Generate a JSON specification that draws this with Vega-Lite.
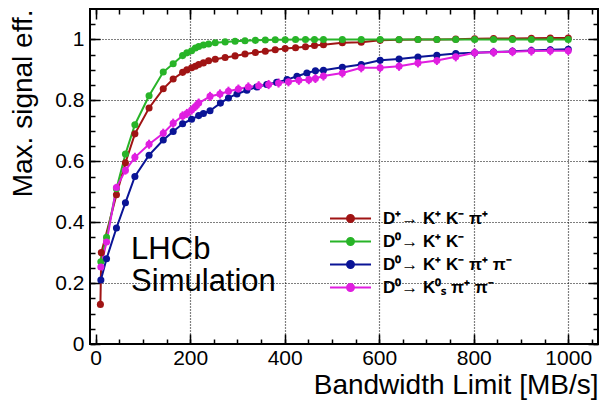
{
  "$schema": "https://vega.github.io/schema/vega-lite/v6.json",
  "width": 508,
  "height": 335,
  "autosize": {"type": "none"},
  "padding": {"left": 90, "top": 9, "right": 1, "bottom": 60},
  "background": "white",
  "config": {
    "view": {"stroke": "black", "strokeWidth": 2},
    "font": "Liberation Sans",
    "axis": {"domain": false, "labelColor": "black", "tickColor": "black", "titleColor": "black", "titleFontWeight": "normal"}
  },
  "resolve": {"axis": {"x": "independent", "y": "independent"}},
  "datasets": {
    "eff": [
      {"series": "Dp", "bw": 10, "eff": 0.13}, {"series": "Dp", "bw": 12, "eff": 0.30}, {"series": "Dp", "bw": 44, "eff": 0.49}, {"series": "Dp", "bw": 63, "eff": 0.595}, {"series": "Dp", "bw": 83, "eff": 0.69}, {"series": "Dp", "bw": 113, "eff": 0.775}, {"series": "Dp", "bw": 143, "eff": 0.838}, {"series": "Dp", "bw": 164, "eff": 0.87}, {"series": "Dp", "bw": 184, "eff": 0.892}, {"series": "Dp", "bw": 193, "eff": 0.9}, {"series": "Dp", "bw": 203, "eff": 0.907}, {"series": "Dp", "bw": 211, "eff": 0.912}, {"series": "Dp", "bw": 218, "eff": 0.918}, {"series": "Dp", "bw": 228, "eff": 0.923}, {"series": "Dp", "bw": 239, "eff": 0.93}, {"series": "Dp", "bw": 253, "eff": 0.935}, {"series": "Dp", "bw": 274, "eff": 0.941}, {"series": "Dp", "bw": 295, "eff": 0.946}, {"series": "Dp", "bw": 316, "eff": 0.952}, {"series": "Dp", "bw": 338, "eff": 0.957}, {"series": "Dp", "bw": 359, "eff": 0.961}, {"series": "Dp", "bw": 380, "eff": 0.966}, {"series": "Dp", "bw": 401, "eff": 0.97}, {"series": "Dp", "bw": 423, "eff": 0.973}, {"series": "Dp", "bw": 444, "eff": 0.976}, {"series": "Dp", "bw": 463, "eff": 0.98}, {"series": "Dp", "bw": 482, "eff": 0.983}, {"series": "Dp", "bw": 522, "eff": 0.989}, {"series": "Dp", "bw": 562, "eff": 0.991}, {"series": "Dp", "bw": 602, "eff": 0.997}, {"series": "Dp", "bw": 642, "eff": 0.999}, {"series": "Dp", "bw": 682, "eff": 1.0}, {"series": "Dp", "bw": 722, "eff": 1.0}, {"series": "Dp", "bw": 762, "eff": 1.001}, {"series": "Dp", "bw": 802, "eff": 1.002}, {"series": "Dp", "bw": 842, "eff": 1.003}, {"series": "Dp", "bw": 882, "eff": 1.003}, {"series": "Dp", "bw": 922, "eff": 1.004}, {"series": "Dp", "bw": 962, "eff": 1.005}, {"series": "Dp", "bw": 1000, "eff": 1.005},

      {"series": "KK", "bw": 11, "eff": 0.27}, {"series": "KK", "bw": 23, "eff": 0.35}, {"series": "KK", "bw": 44, "eff": 0.51}, {"series": "KK", "bw": 63, "eff": 0.624}, {"series": "KK", "bw": 83, "eff": 0.72}, {"series": "KK", "bw": 113, "eff": 0.815}, {"series": "KK", "bw": 143, "eff": 0.893}, {"series": "KK", "bw": 164, "eff": 0.92}, {"series": "KK", "bw": 184, "eff": 0.947}, {"series": "KK", "bw": 193, "eff": 0.956}, {"series": "KK", "bw": 203, "eff": 0.963}, {"series": "KK", "bw": 211, "eff": 0.972}, {"series": "KK", "bw": 218, "eff": 0.977}, {"series": "KK", "bw": 228, "eff": 0.982}, {"series": "KK", "bw": 239, "eff": 0.985}, {"series": "KK", "bw": 253, "eff": 0.989}, {"series": "KK", "bw": 274, "eff": 0.992}, {"series": "KK", "bw": 295, "eff": 0.994}, {"series": "KK", "bw": 316, "eff": 0.996}, {"series": "KK", "bw": 338, "eff": 0.997}, {"series": "KK", "bw": 359, "eff": 0.998}, {"series": "KK", "bw": 380, "eff": 0.999}, {"series": "KK", "bw": 401, "eff": 0.999}, {"series": "KK", "bw": 423, "eff": 1.0}, {"series": "KK", "bw": 444, "eff": 1.0}, {"series": "KK", "bw": 463, "eff": 1.0}, {"series": "KK", "bw": 482, "eff": 1.0}, {"series": "KK", "bw": 522, "eff": 1.0}, {"series": "KK", "bw": 562, "eff": 1.0}, {"series": "KK", "bw": 602, "eff": 1.0}, {"series": "KK", "bw": 642, "eff": 1.0}, {"series": "KK", "bw": 682, "eff": 1.0}, {"series": "KK", "bw": 722, "eff": 1.0}, {"series": "KK", "bw": 762, "eff": 1.0}, {"series": "KK", "bw": 802, "eff": 1.0}, {"series": "KK", "bw": 842, "eff": 1.0}, {"series": "KK", "bw": 882, "eff": 1.0}, {"series": "KK", "bw": 922, "eff": 1.0}, {"series": "KK", "bw": 962, "eff": 1.0}, {"series": "KK", "bw": 1000, "eff": 1.0},

      {"series": "KKpipi", "bw": 11, "eff": 0.21}, {"series": "KKpipi", "bw": 23, "eff": 0.28}, {"series": "KKpipi", "bw": 44, "eff": 0.381}, {"series": "KKpipi", "bw": 63, "eff": 0.464}, {"series": "KKpipi", "bw": 83, "eff": 0.55}, {"series": "KKpipi", "bw": 113, "eff": 0.62}, {"series": "KKpipi", "bw": 143, "eff": 0.67}, {"series": "KKpipi", "bw": 164, "eff": 0.698}, {"series": "KKpipi", "bw": 184, "eff": 0.723}, {"series": "KKpipi", "bw": 203, "eff": 0.738}, {"series": "KKpipi", "bw": 218, "eff": 0.75}, {"series": "KKpipi", "bw": 228, "eff": 0.757}, {"series": "KKpipi", "bw": 242, "eff": 0.766}, {"series": "KKpipi", "bw": 264, "eff": 0.791}, {"series": "KKpipi", "bw": 281, "eff": 0.808}, {"series": "KKpipi", "bw": 299, "eff": 0.821}, {"series": "KKpipi", "bw": 320, "eff": 0.833}, {"series": "KKpipi", "bw": 341, "eff": 0.844}, {"series": "KKpipi", "bw": 362, "eff": 0.852}, {"series": "KKpipi", "bw": 383, "eff": 0.859}, {"series": "KKpipi", "bw": 405, "eff": 0.868}, {"series": "KKpipi", "bw": 426, "eff": 0.879}, {"series": "KKpipi", "bw": 447, "eff": 0.89}, {"series": "KKpipi", "bw": 465, "eff": 0.897}, {"series": "KKpipi", "bw": 482, "eff": 0.899}, {"series": "KKpipi", "bw": 522, "eff": 0.909}, {"series": "KKpipi", "bw": 562, "eff": 0.918}, {"series": "KKpipi", "bw": 602, "eff": 0.932}, {"series": "KKpipi", "bw": 642, "eff": 0.936}, {"series": "KKpipi", "bw": 682, "eff": 0.942}, {"series": "KKpipi", "bw": 722, "eff": 0.948}, {"series": "KKpipi", "bw": 762, "eff": 0.954}, {"series": "KKpipi", "bw": 802, "eff": 0.956}, {"series": "KKpipi", "bw": 842, "eff": 0.959}, {"series": "KKpipi", "bw": 882, "eff": 0.961}, {"series": "KKpipi", "bw": 922, "eff": 0.964}, {"series": "KKpipi", "bw": 962, "eff": 0.966}, {"series": "KKpipi", "bw": 1000, "eff": 0.968},

      {"series": "KSpipi", "bw": 11, "eff": 0.253, "err": 0.008}, {"series": "KSpipi", "bw": 23, "eff": 0.335, "err": 0.01}, {"series": "KSpipi", "bw": 44, "eff": 0.514, "err": 0.012}, {"series": "KSpipi", "bw": 63, "eff": 0.57, "err": 0.014}, {"series": "KSpipi", "bw": 83, "eff": 0.613, "err": 0.015}, {"series": "KSpipi", "bw": 113, "eff": 0.656, "err": 0.015}, {"series": "KSpipi", "bw": 143, "eff": 0.692, "err": 0.015}, {"series": "KSpipi", "bw": 164, "eff": 0.725, "err": 0.015}, {"series": "KSpipi", "bw": 184, "eff": 0.749, "err": 0.015}, {"series": "KSpipi", "bw": 193, "eff": 0.757, "err": 0.015}, {"series": "KSpipi", "bw": 203, "eff": 0.768, "err": 0.015}, {"series": "KSpipi", "bw": 211, "eff": 0.78, "err": 0.015}, {"series": "KSpipi", "bw": 218, "eff": 0.791, "err": 0.015}, {"series": "KSpipi", "bw": 242, "eff": 0.813, "err": 0.015}, {"series": "KSpipi", "bw": 263, "eff": 0.821, "err": 0.015}, {"series": "KSpipi", "bw": 281, "eff": 0.83, "err": 0.015}, {"series": "KSpipi", "bw": 302, "eff": 0.837, "err": 0.015}, {"series": "KSpipi", "bw": 323, "eff": 0.844, "err": 0.015}, {"series": "KSpipi", "bw": 345, "eff": 0.848, "err": 0.015}, {"series": "KSpipi", "bw": 366, "eff": 0.852, "err": 0.015}, {"series": "KSpipi", "bw": 387, "eff": 0.857, "err": 0.015}, {"series": "KSpipi", "bw": 408, "eff": 0.861, "err": 0.015}, {"series": "KSpipi", "bw": 430, "eff": 0.866, "err": 0.015}, {"series": "KSpipi", "bw": 451, "eff": 0.868, "err": 0.015}, {"series": "KSpipi", "bw": 465, "eff": 0.872, "err": 0.015}, {"series": "KSpipi", "bw": 482, "eff": 0.88, "err": 0.015}, {"series": "KSpipi", "bw": 522, "eff": 0.89, "err": 0.015}, {"series": "KSpipi", "bw": 562, "eff": 0.907, "err": 0.015}, {"series": "KSpipi", "bw": 602, "eff": 0.907, "err": 0.015}, {"series": "KSpipi", "bw": 642, "eff": 0.912, "err": 0.015}, {"series": "KSpipi", "bw": 682, "eff": 0.923, "err": 0.015}, {"series": "KSpipi", "bw": 722, "eff": 0.931, "err": 0.015}, {"series": "KSpipi", "bw": 762, "eff": 0.943, "err": 0.015}, {"series": "KSpipi", "bw": 802, "eff": 0.956, "err": 0.015}, {"series": "KSpipi", "bw": 842, "eff": 0.958, "err": 0.015}, {"series": "KSpipi", "bw": 882, "eff": 0.96, "err": 0.015}, {"series": "KSpipi", "bw": 922, "eff": 0.962, "err": 0.015}, {"series": "KSpipi", "bw": 962, "eff": 0.963, "err": 0.015}, {"series": "KSpipi", "bw": 1000, "eff": 0.963, "err": 0.015}
    ]
  },
  "layer": [
    {
      "data": {"name": "eff"},
      "transform": [{"filter": "datum.err > 0"}],
      "mark": {"type": "errorbar", "color": "#e01ee0", "thickness": 2},
      "encoding": {
        "x": {"field": "bw", "type": "quantitative", "scale": {"domain": [-12, 1063], "nice": false, "zero": false}, "axis": null},
        "y": {"field": "eff", "type": "quantitative", "scale": {"domain": [0, 1.1], "nice": false, "zero": false}, "axis": null},
        "yError": {"field": "err"}
      }
    },
    {
      "data": {"name": "eff"},
      "mark": {"type": "line", "strokeWidth": 2, "point": {"filled": true, "size": 50, "opacity": 1}},
      "encoding": {
        "x": {"field": "bw", "type": "quantitative",
          "axis": {"orient": "bottom", "values": [0, 200, 400, 600, 800, 1000], "format": "d", "tickSize": -10, "tickWidth": 1.5, "labelFontSize": 21, "labelPadding": 13,
            "grid": true, "gridColor": "black", "gridDash": [1, 2], "gridWidth": 1.2, "gridOpacity": {"condition": {"test": "datum.value === 0", "value": 0}, "value": 1},
            "title": "Bandwidth Limit [MB/s]", "titleFontSize": 28, "titleAnchor": "end", "titleAlign": "right", "titleX": 508, "titleY": 49, "titleBaseline": "alphabetic"}},
        "y": {"field": "eff", "type": "quantitative",
          "axis": {"orient": "left", "values": [0, 0.2, 0.4, 0.6, 0.8, 1.0], "format": "~g", "tickSize": -10, "tickWidth": 1.5, "labelFontSize": 21, "labelPadding": 16,
            "grid": true, "gridColor": "black", "gridDash": [1, 2], "gridWidth": 1.2,
            "title": "Max. signal eff.", "titleFontSize": 28, "titleAngle": -90, "titleAlign": "right", "titleX": -59, "titleY": 0, "titleBaseline": "alphabetic"}},
        "color": {"field": "series", "type": "nominal",
          "scale": {"domain": ["Dp", "KK", "KKpipi", "KSpipi"], "range": ["#a01414", "#28b428", "#0a1496", "#e01ee0"]},
          "legend": {"orient": "none", "legendX": 252, "legendY": 201, "title": null, "padding": 0,
            "labelFontSize": 17, "labelFontWeight": "bold", "labelColor": "black", "labelOffset": 24, "rowPadding": 5,
            "symbolType": "M-4.1,0H4.1M-0.7,0A0.7,0.7,0,1,1,0.7,0A0.7,0.7,0,1,1,-0.7,0Z", "symbolSize": 100, "symbolStrokeWidth": 2,
            "symbolOpacity": 1,
            "labelExpr": "datum.value === 'Dp' ? 'D⁺→ K⁺ K⁻  π⁺' : datum.value === 'KK' ? 'D⁰→ K⁺ K⁻' : datum.value === 'KKpipi' ? 'D⁰→ K⁺ K⁻  π⁺ π⁻' : 'D⁰→ K⁰ₛ π⁺ π⁻'",
            "encoding": {"symbols": {"update": {"fill": {"scale": "color", "field": "value"}}}}}}
      }
    },
    {
      "data": {"values": [{}]},
      "mark": {"type": "text", "fontSize": 31, "align": "left", "baseline": "alphabetic", "lineHeight": 32, "color": "black", "font": "Liberation Sans"},
      "encoding": {
        "x": {"datum": 75, "type": "quantitative", "axis": null},
        "y": {"datum": 0.28, "type": "quantitative", "axis": null},
        "text": {"value": ["LHCb", "Simulation"]}
      }
    },
    {
      "data": {"values": [{}]},
      "mark": {"type": "point", "opacity": 0},
      "encoding": {
        "x": {"datum": 0, "type": "quantitative", "axis": {"orient": "bottom", "values": [0, 50, 100, 150, 200, 250, 300, 350, 400, 450, 500, 550, 600, 650, 700, 750, 800, 850, 900, 950, 1000, 1050], "tickSize": -5, "tickWidth": 1.5, "labels": false, "grid": false, "title": null}},
        "y": {"datum": 0, "type": "quantitative", "axis": {"orient": "left", "values": [0, 0.05, 0.1, 0.15, 0.2, 0.25, 0.3, 0.35, 0.4, 0.45, 0.5, 0.55, 0.6, 0.65, 0.7, 0.75, 0.8, 0.85, 0.9, 0.95, 1.0, 1.05], "tickSize": -5, "tickWidth": 1.5, "labels": false, "grid": false, "title": null}}
      }
    },
    {
      "data": {"values": [{}]},
      "mark": {"type": "point", "opacity": 0},
      "encoding": {
        "x": {"datum": 0, "type": "quantitative", "axis": {"orient": "top", "values": [0, 200, 400, 600, 800, 1000], "tickSize": -10, "tickWidth": 1.5, "labels": false, "grid": false, "title": null}},
        "y": {"datum": 0, "type": "quantitative", "axis": {"orient": "right", "values": [0, 0.2, 0.4, 0.6, 0.8, 1.0], "tickSize": -10, "tickWidth": 1.5, "labels": false, "grid": false, "title": null}}
      }
    },
    {
      "data": {"values": [{}]},
      "mark": {"type": "point", "opacity": 0},
      "encoding": {
        "x": {"datum": 0, "type": "quantitative", "axis": {"orient": "top", "values": [0, 50, 100, 150, 200, 250, 300, 350, 400, 450, 500, 550, 600, 650, 700, 750, 800, 850, 900, 950, 1000, 1050], "tickSize": -5, "tickWidth": 1.5, "labels": false, "grid": false, "title": null}},
        "y": {"datum": 0, "type": "quantitative", "axis": {"orient": "right", "values": [0, 0.05, 0.1, 0.15, 0.2, 0.25, 0.3, 0.35, 0.4, 0.45, 0.5, 0.55, 0.6, 0.65, 0.7, 0.75, 0.8, 0.85, 0.9, 0.95, 1.0, 1.05], "tickSize": -5, "tickWidth": 1.5, "labels": false, "grid": false, "title": null}}
      }
    }
  ]
}
